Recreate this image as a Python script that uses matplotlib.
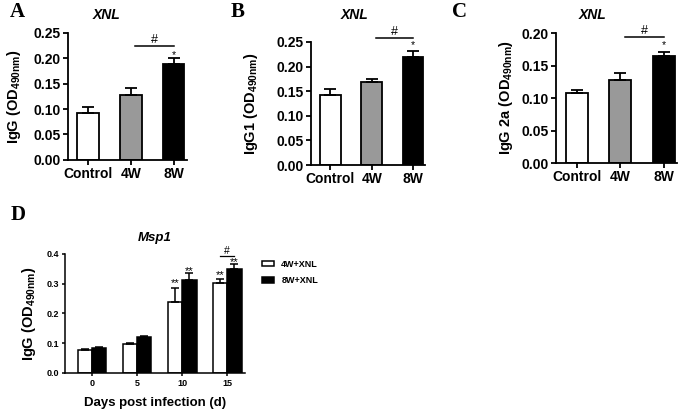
import matplotlib
matplotlib.use("Agg")
import matplotlib.pyplot as plt
import numpy as np

plt.rcParams['font.family'] = ['Liberation Sans', 'DejaVu Sans']
plt.rcParams['font.weight'] = 'bold'
plt.rcParams['mathtext.fontset'] = 'custom'
plt.rcParams['mathtext.rm'] = 'Liberation Sans:bold'
plt.rcParams['mathtext.it'] = 'Liberation Sans:bold:italic'
plt.rcParams['mathtext.bf'] = 'Liberation Sans:bold'

# panels A-C data
groups = ['Control', '4W', '8W']
igg_mean = [0.093, 0.128, 0.189]
igg_err = [0.011, 0.013, 0.011]
igg1_mean = [0.143, 0.168, 0.219]
igg1_err = [0.011, 0.006, 0.012]
igg2a_mean = [0.108, 0.128, 0.164]
igg2a_err = [0.004, 0.011, 0.007]
bar_colors = ['white', '#999999', 'black']

# panel D data
days = ['0', '5', '10', '15']
msp_4w = [0.078, 0.097, 0.240, 0.302]
msp_4w_err = [0.004, 0.004, 0.045, 0.014]
msp_8w = [0.084, 0.120, 0.313, 0.351]
msp_8w_err = [0.004, 0.004, 0.022, 0.015]

fig = plt.figure(figsize=(6.85, 4.11), dpi=100)


def style_ax(ax, fs):
    for s in ['top', 'right']:
        ax.spines[s].set_visible(False)
    for s in ['left', 'bottom']:
        ax.spines[s].set_linewidth(1.3)
    ax.tick_params(width=1.3, length=3.5, labelsize=fs, pad=1.5)
    for lab in ax.get_xticklabels() + ax.get_yticklabels():
        lab.set_fontweight('bold')


def top_panel(rect, mean, err, ylim, yticks, ylabel, hash_y, star_y, ylab_x):
    ax = fig.add_axes(rect)
    x = np.arange(len(groups))
    ax.bar(x, mean, width=0.5, color=bar_colors, edgecolor='black', linewidth=1.3,
           yerr=[np.zeros(len(err)), err], capsize=4,
           error_kw=dict(elinewidth=1.3, capthick=1.3, ecolor='black'), zorder=2)
    ax.set_xlim(-0.47, 2.3)
    ax.set_ylim(*ylim)
    ax.set_yticks(yticks)
    ax.set_yticklabels(['%.2f' % v for v in yticks])
    ax.set_xticks(x)
    ax.set_xticklabels(groups)
    style_ax(ax, 10)
    ax.set_ylabel(ylabel, fontsize=10.5, fontweight='bold')
    ax.yaxis.set_label_coords(ylab_x, 0.5)
    ax.plot([1.1, 2.0], [hash_y, hash_y], color='black', lw=1.1, clip_on=False)
    ax.text(1.55, hash_y, '#', ha='center', va='bottom', fontsize=9, fontweight='normal')
    ax.text(2.0, star_y, '*', ha='center', va='center', fontsize=7.5, fontweight='normal')
    return ax


axA = top_panel([0.0993, 0.611, 0.173, 0.309], igg_mean, igg_err, (0, 0.25),
                [0, 0.05, 0.10, 0.15, 0.20, 0.25], r'IgG (OD$_\mathrm{490nm}$)', 0.225, 0.207, -0.38)
axB = top_panel([0.454, 0.5985, 0.167, 0.2995], igg1_mean, igg1_err, (0, 0.25),
                [0, 0.05, 0.10, 0.15, 0.20, 0.25], r'IgG1 (OD$_\mathrm{490nm}$)', 0.257, 0.243, -0.45)
axC = top_panel([0.8117, 0.6034, 0.177, 0.3163], igg2a_mean, igg2a_err, (0, 0.20),
                [0, 0.05, 0.10, 0.15, 0.20], r'IgG 2a (OD$_\mathrm{490nm}$)', 0.194, 0.181, -0.34)

for ax, t, x in [(axA, 'XNL', 107), (axB, 'XNL', 355), (axC, 'XNL', 593)]:
    fig.text(x / 685, 1 - 15 / 411, t, ha='center', va='center', fontsize=10,
             fontweight='bold', style='italic')

# panel D
axD = fig.add_axes([0.0949, 0.0925, 0.263, 0.2895])
xd = np.arange(len(days))
w = 0.32
axD.bar(xd - w / 2, msp_4w, width=w, color='white', edgecolor='black', linewidth=1.1,
        yerr=[np.zeros(4), msp_4w_err], capsize=3,
        error_kw=dict(elinewidth=1.1, capthick=1.1, ecolor='black'), label='4W+XNL')
axD.bar(xd + w / 2, msp_8w, width=w, color='black', edgecolor='black', linewidth=1.1,
        yerr=[np.zeros(4), msp_8w_err], capsize=3,
        error_kw=dict(elinewidth=1.1, capthick=1.1, ecolor='black'), label='8W+XNL')
axD.set_xlim(-0.6, 3.4)
axD.set_ylim(0, 0.4)
axD.set_yticks([0, 0.1, 0.2, 0.3, 0.4])
axD.set_xticks(xd)
axD.set_xticklabels(days)
style_ax(axD, 6.5)
axD.tick_params(length=2.5, width=1.1)
for s in ['left', 'bottom']:
    axD.spines[s].set_linewidth(1.1)
axD.set_ylabel(r'IgG (OD$_\mathrm{490nm}$)', fontsize=10.5, fontweight='bold')
axD.yaxis.set_label_coords(-0.15, 0.5)
axD.set_xlabel('Days post infection (d)', fontsize=9.5, fontweight='bold', labelpad=7)
axD.set_title('Msp1', fontsize=9.5, fontweight='bold', style='italic', pad=9)
for xi, top, s in [(2 - w / 2, 0.302, '**'), (2 + w / 2, 0.344, '**'),
                   (3 - w / 2, 0.330, '**'), (3 + w / 2, 0.374, '**')]:
    axD.text(xi, top, s, ha='center', va='center', fontsize=8, fontweight='normal')
axD.plot([3 - w / 2, 3 + w / 2], [0.394, 0.394], color='black', lw=0.9, clip_on=False)
axD.text(3, 0.394, '#', ha='center', va='bottom', fontsize=7.5, fontweight='normal')
leg = axD.legend(loc='upper left', bbox_to_anchor=(1.05, 1.02), frameon=False,
                 fontsize=6.5, handlelength=1.3, handleheight=0.6, labelspacing=0.8)
for t in leg.get_texts():
    t.set_fontweight('bold')

# panel letters
for letter, x, y in [('A', 17, 12), ('B', 238, 12), ('C', 460, 12), ('D', 18, 215)]:
    fig.text(x / 685, 1 - y / 411, letter, ha='center', va='center', fontsize=15,
             fontweight='bold', family='Liberation Serif')

fig.savefig('out.png', dpi=100)
